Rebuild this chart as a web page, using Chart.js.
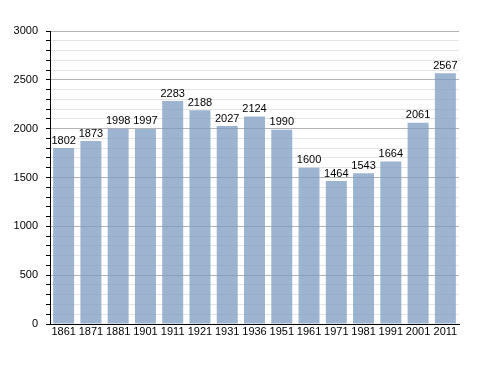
<!DOCTYPE html>
<html>
<head>
<meta charset="utf-8">
<script src="https://cdn.jsdelivr.net/npm/chart.js@4/dist/chart.umd.min.js"></script>
<style>
  body { margin: 0; background: #fff; }
  #wrap { width: 488px; height: 373px; }
</style>
</head>
<body>
<div id="wrap"><canvas id="popChart" width="488" height="373"></canvas></div>
<script>
// Census years and population
const years = ['1861', '1871', '1881', '1901', '1911', '1921', '1931', '1936', '1951', '1961', '1971', '1981', '1991', '2001', '2011'];
const population = [1802, 1873, 1998, 1997, 2283, 2188, 2027, 2124, 1990, 1600, 1464, 1543, 1664, 2061, 2567];

// Draw the value above each bar
const valueLabels = {
    id: 'valueLabels',
    afterDatasetsDraw(chart) {
        const ctx = chart.ctx;
        const meta = chart.getDatasetMeta(0);
        ctx.save();
        ctx.font = '11px "Liberation Sans", Arial, sans-serif';
        ctx.fillStyle = '#000';
        ctx.textAlign = 'center';
        ctx.textBaseline = 'bottom';
        meta.data.forEach((bar, i) => {
            ctx.fillText(population[i], bar.x, bar.y - 2);
        });
        ctx.restore();
    }
};

const ctx = document.getElementById('popChart').getContext('2d');
new Chart(ctx, {
    type: 'bar',
    data: {
        labels: years,
        datasets: [{
            data: population,
            backgroundColor: 'rgba(123, 155, 192, 0.75)',
            borderWidth: 0,
            barPercentage: 0.77,
            categoryPercentage: 1
        }]
    },
    options: {
        responsive: false,
        animation: false,
        layout: { padding: { left: 0, top: 31, right: 29, bottom: 29 } },
        plugins: {
            legend: { display: false },
            tooltip: { enabled: false }
        },
        scales: {
            x: {
                grid: { display: false, drawTicks: false },
                border: { color: '#000', width: 1 },
                ticks: {
                    color: '#000',
                    padding: 1,
                    maxRotation: 0,
                    autoSkip: false,
                    font: { family: '"Liberation Sans", Arial, sans-serif', size: 11 }
                },
                afterFit(scale) { scale.height = 20; }
            },
            y: {
                min: 0,
                max: 3000,
                border: { color: '#000', width: 1 },
                grid: {
                    color: c => (c.tick.value % 500 === 0 ? '#b4b4b4' : '#e6e6e6'),
                    tickColor: '#000',
                    tickLength: 4
                },
                ticks: {
                    stepSize: 100,
                    color: '#000',
                    padding: 8,
                    autoSkip: false,
                    font: { family: '"Liberation Sans", Arial, sans-serif', size: 11 },
                    callback: v => (v % 500 === 0 ? v : '')
                },
                afterFit(scale) { scale.width = 50; }
            }
        }
    },
    plugins: [valueLabels]
});
</script>
</body>
</html>
